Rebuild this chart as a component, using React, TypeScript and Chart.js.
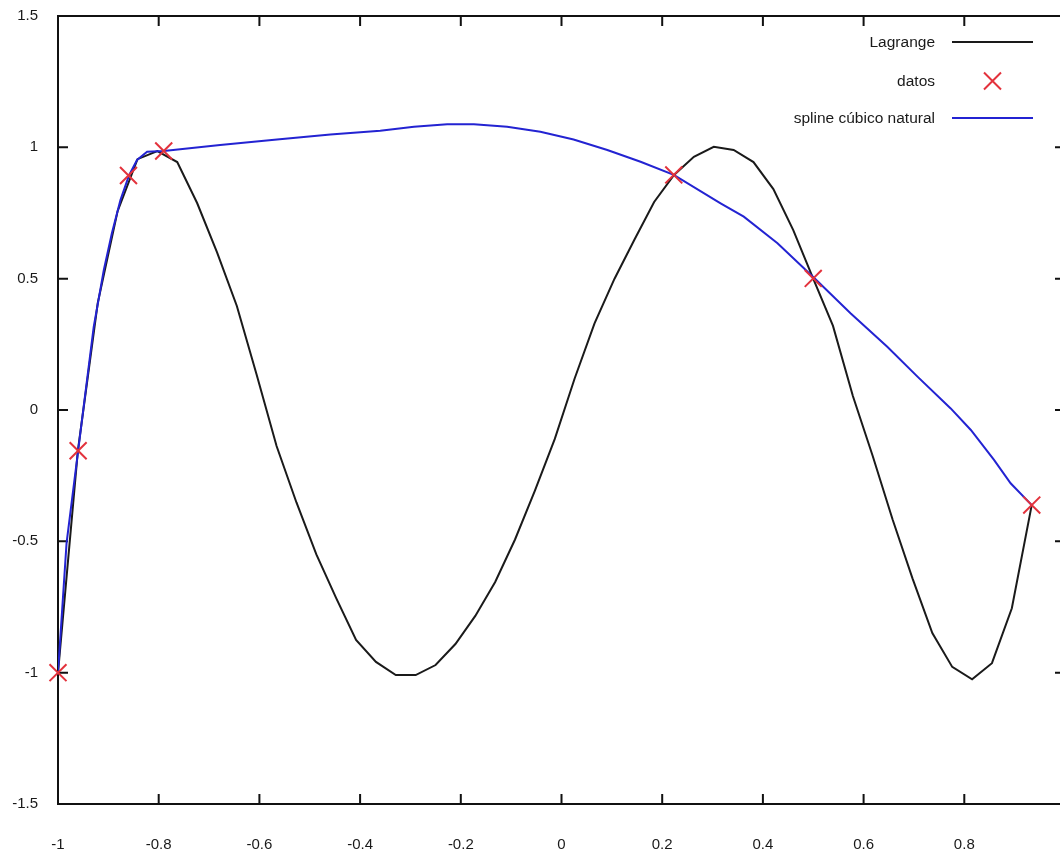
import React, { useEffect, useRef } from "react";
import { Chart, registerables } from "chart.js";

Chart.register(...registerables);

// interpolation nodes ("datos")
const datosX = [-1, -0.96, -0.86, -0.79, 0.223, 0.5, 0.934];
const datosY = [-1, -0.155, 0.893, 0.986, 0.895, 0.501, -0.362];

// Lagrange polynomial
const lagrangeX = [
  -1, -0.9605, -0.9211, -0.8816, -0.8421, -0.8027, -0.7632, -0.7237, -0.6843, -0.6448,
  -0.6053, -0.5659, -0.5264, -0.4869, -0.4475, -0.408, -0.3685, -0.3291, -0.2896, -0.2501,
  -0.2107, -0.1712, -0.1317, -0.0923, -0.0528, -0.0133, 0.0261, 0.0656, 0.1051, 0.1445,
  0.184, 0.2235, 0.2629, 0.3024, 0.3419, 0.3813, 0.4208, 0.4603, 0.4997, 0.5392,
  0.5787, 0.6181, 0.6576, 0.6971, 0.7365, 0.776, 0.8155, 0.8549, 0.8944, 0.9339,
];
const lagrangeY = [
  -1, -0.155, 0.407, 0.757, 0.955, 0.986, 0.944, 0.788, 0.601, 0.396,
  0.133, -0.137, -0.352, -0.55, -0.716, -0.875, -0.959, -1.009, -1.009, -0.971,
  -0.891, -0.784, -0.655, -0.493, -0.307, -0.11, 0.12, 0.33, 0.499, 0.647,
  0.792, 0.895, 0.964, 1.002, 0.99, 0.944, 0.841, 0.685, 0.501, 0.32,
  0.053, -0.175, -0.417, -0.641, -0.849, -0.978, -1.025, -0.964, -0.755, -0.362,
];

// natural cubic spline
const splineX = [
  -1, -0.983, -0.96, -0.929, -0.909, -0.893, -0.876, -0.859, -0.843, -0.823,
  -0.79, -0.678, -0.565, -0.459, -0.36, -0.293, -0.227, -0.174, -0.108, -0.042,
  0.024, 0.091, 0.157, 0.223, 0.316, 0.362, 0.429, 0.503, 0.574, 0.647,
  0.707, 0.773, 0.813, 0.859, 0.892, 0.934,
];
const splineY = [
  -1, -0.507, -0.155, 0.317, 0.533, 0.673, 0.799, 0.893, 0.952, 0.983,
  0.986, 1.009, 1.03, 1.049, 1.063, 1.078, 1.088, 1.088, 1.078, 1.059,
  1.03, 0.99, 0.945, 0.895, 0.787, 0.736, 0.635, 0.501, 0.368, 0.241,
  0.127, 0.006, -0.076, -0.19, -0.279, -0.362,
];

const xTickValues = [-1, -0.8, -0.6, -0.4, -0.2, 0, 0.2, 0.4, 0.6, 0.8, 1];
const yTickValues = [-1.5, -1, -0.5, 0, 0.5, 1, 1.5];
const legendLabels = ["Lagrange", "datos", "spline cúbico natural"];

const CANVAS_W = 1080;
const CANVAS_H = 855;
const FONT = "'Liberation Sans', Arial, sans-serif";
const BLACK = "#1a1a1a";
const BLUE = "#2323d2";
const RED = "#e3323c";

const zip = (xs: number[], ys: number[]) => xs.map((x, i) => ({ x, y: ys[i] }));

const framePlugin = {
  id: "gnuFrame",
  beforeDatasetsDraw(chart: any) {
    const { ctx, chartArea: a, scales } = chart;
    ctx.save();
    ctx.strokeStyle = "#111";
    ctx.lineWidth = 2;
    ctx.strokeRect(a.left, a.top, a.right - a.left, a.bottom - a.top);
    ctx.beginPath();
    for (const v of xTickValues) {
      const px = scales.x.getPixelForValue(v);
      ctx.moveTo(px, a.bottom);
      ctx.lineTo(px, a.bottom - 10);
      ctx.moveTo(px, a.top);
      ctx.lineTo(px, a.top + 10);
    }
    for (const v of yTickValues) {
      const py = scales.y.getPixelForValue(v);
      ctx.moveTo(a.left, py);
      ctx.lineTo(a.left + 10, py);
      ctx.moveTo(a.right, py);
      ctx.lineTo(a.right - 10, py);
    }
    ctx.stroke();
    ctx.restore();
  },
};

const legendPlugin = {
  id: "gnuLegend",
  afterDatasetsDraw(chart: any) {
    const { ctx } = chart;
    const rows = [42, 81, 118];
    const textRight = 935;
    const lineL = 952;
    const lineR = 1033;
    ctx.save();
    ctx.font = `15.5px ${FONT}`;
    ctx.fillStyle = "#1a1a1a";
    ctx.textAlign = "right";
    ctx.textBaseline = "middle";
    legendLabels.forEach((t, i) => ctx.fillText(t, textRight, rows[i] + 1));
    ctx.lineWidth = 2;
    ctx.strokeStyle = BLACK;
    ctx.beginPath();
    ctx.moveTo(lineL, rows[0]);
    ctx.lineTo(lineR, rows[0]);
    ctx.stroke();
    ctx.strokeStyle = BLUE;
    ctx.beginPath();
    ctx.moveTo(lineL, rows[2]);
    ctx.lineTo(lineR, rows[2]);
    ctx.stroke();
    const cx = (lineL + lineR) / 2;
    const cy = rows[1];
    const h = 8.5;
    ctx.strokeStyle = RED;
    ctx.beginPath();
    ctx.moveTo(cx - h, cy - h);
    ctx.lineTo(cx + h, cy + h);
    ctx.moveTo(cx - h, cy + h);
    ctx.lineTo(cx + h, cy - h);
    ctx.stroke();
    ctx.restore();
  },
};

const fmt = (v: number | string) => {
  const n = Math.round(Number(v) * 10) / 10;
  return String(n === 0 ? 0 : n);
};

export default function App() {
  const ref = useRef<HTMLCanvasElement | null>(null);

  useEffect(() => {
    if (!ref.current) return;
    const chart = new Chart(ref.current, {
      type: "scatter",
      data: {
        datasets: [
          {
            label: "datos",
            data: zip(datosX, datosY),
            showLine: false,
            pointStyle: "crossRot",
            pointRadius: 12,
            pointHoverRadius: 12,
            borderColor: RED,
            backgroundColor: RED,
            pointBorderWidth: 2,
            borderWidth: 2,
            clip: false,
          },
          {
            label: "spline cúbico natural",
            data: zip(splineX, splineY),
            showLine: true,
            borderColor: BLUE,
            borderWidth: 2,
            pointRadius: 0,
            tension: 0,
          },
          {
            label: "Lagrange",
            data: zip(lagrangeX, lagrangeY),
            showLine: true,
            borderColor: BLACK,
            borderWidth: 2,
            pointRadius: 0,
            tension: 0,
          },
        ],
      },
      options: {
        responsive: false,
        animation: false,
        devicePixelRatio: 1,
        layout: { padding: { left: 0, top: 16, right: CANVAS_W - 1065, bottom: 0 } },
        plugins: { legend: { display: false }, tooltip: { enabled: false } },
        scales: {
          x: {
            type: "linear",
            min: -1,
            max: 1,
            grid: { display: false, drawTicks: false },
            border: { display: false },
            ticks: {
              stepSize: 0.2,
              padding: 32,
              maxRotation: 0,
              autoSkip: false,
              color: "#1a1a1a",
              font: { family: FONT, size: 15 },
              callback: (v: any) => fmt(v),
            },
            afterFit: (s: any) => {
              s.height = 51;
              s.paddingLeft = 0;
              s.paddingRight = 0;
              s.paddingTop = 0;
              s.paddingBottom = 0;
            },
          },
          y: {
            type: "linear",
            min: -1.5,
            max: 1.5,
            grid: { display: false, drawTicks: false },
            border: { display: false },
            ticks: {
              stepSize: 0.5,
              padding: 20,
              autoSkip: false,
              color: "#1a1a1a",
              font: { family: FONT, size: 15 },
              callback: (v: any) => fmt(v),
            },
            afterFit: (s: any) => {
              s.width = 58;
              s.paddingLeft = 0;
              s.paddingRight = 0;
              s.paddingTop = 0;
              s.paddingBottom = 0;
            },
          },
        },
      },
      plugins: [framePlugin, legendPlugin],
    });
    return () => chart.destroy();
  }, []);

  return (
    <div
      style={{
        position: "fixed",
        left: 0,
        top: 0,
        width: 1060,
        height: 855,
        overflow: "hidden",
        background: "#fff",
      }}
    >
      <canvas ref={ref} width={CANVAS_W} height={CANVAS_H} style={{ display: "block" }} />
    </div>
  );
}
